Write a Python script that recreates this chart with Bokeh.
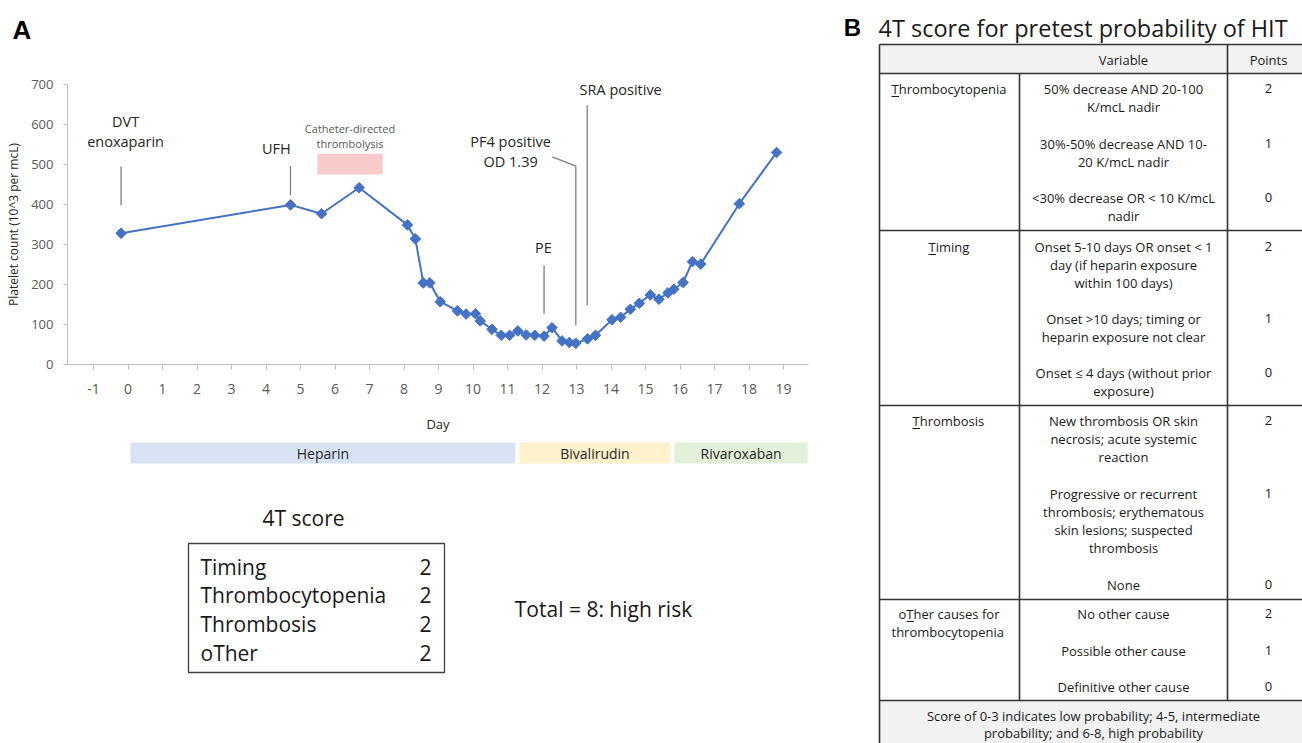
import math
from bokeh.plotting import figure
from bokeh.models import Range1d, FixedTicker
from bokeh.layouts import row, column
from bokeh.embed import file_html
from bokeh.resources import INLINE
from bokeh.core.properties import value

# ---------------- data ----------------
days = [-0.2, 4.71, 5.61, 6.70, 8.10, 8.33, 8.56, 8.75, 9.05, 9.55, 9.80, 10.07,
        10.21, 10.55, 10.82, 11.06, 11.30, 11.54, 11.79, 12.06, 12.29, 12.58,
        12.79, 12.98, 13.32, 13.55, 14.03, 14.28, 14.56, 14.82, 15.14, 15.39,
        15.65, 15.82, 16.09, 16.36, 16.60, 17.72, 18.80]
platelets = [328, 399, 377, 442, 349, 314, 204, 204, 157, 134, 126, 127,
             109, 88, 73, 73, 84, 74, 73, 71, 92, 59,
             55, 53, 64, 73, 112, 118, 138, 153, 174, 163,
             179, 188, 205, 257, 251, 402, 530]

x_ticks = list(range(-1, 20))
y_ticks = list(range(0, 701, 100))

event_text = ["DVT", "enoxaparin", "UFH", "PE", "PF4 positive", "OD 1.39", "SRA positive"]
event_text_x = [-0.07, -0.07, 4.30, 12.04, 11.09, 11.09, 14.28]
event_text_y = [607, 557, 540, 292, 557, 507, 687]
event_line_x = [[-0.2, -0.2], [4.71, 4.71], [12.06, 12.06], [12.30, 12.98, 12.98], [13.31, 13.31]]
event_line_y = [[398, 495], [423, 496], [127, 248], [519, 496, 98], [148, 648]]

lysis_start, lysis_end = 5.49, 7.38
lysis_low, lysis_high = 475, 527
lysis_text = ["Catheter-directed", "thrombolysis"]

treatments = ["Heparin", "Bivalirudin", "Rivaroxaban"]
treat_start = [0.07, 11.35, 15.84]
treat_end = [11.23, 15.72, 19.70]
treat_colors = ["#dae3f3", "#fff2cc", "#e2f0d9"]

score_items = ["Timing", "Thrombocytopenia", "Thrombosis", "oTher"]
score_points = [2, 2, 2, 2]

var_lines = [["Thrombocytopenia"], ["Timing"], ["Thrombosis"], ["oTher causes for", "thrombocytopenia"]]
criteria = [
    [["50% decrease AND 20-100", "K/mcL nadir"],
     ["30%-50% decrease AND 10-", "20 K/mcL nadir"],
     ["<30% decrease OR < 10 K/mcL", "nadir"]],
    [["Onset 5-10 days OR onset < 1", "day (if heparin exposure", "within 100 days)"],
     ["Onset >10 days; timing or", "heparin exposure not clear"],
     ["Onset \u2264 4 days (without prior", "exposure)"]],
    [["New thrombosis OR skin", "necrosis; acute systemic", "reaction"],
     ["Progressive or recurrent", "thrombosis; erythematous", "skin lesions; suspected", "thrombosis"],
     ["None"]],
    [["No other cause"], ["Possible other cause"], ["Definitive other cause"]],
]
crit_points = [[2, 1, 0], [2, 1, 0], [2, 1, 0], [2, 1, 0]]
footer_lines = ["Score of 0-3 indicates low probability; 4-5, intermediate",
                "probability; and 6-8, high probability"]

# ---------------- layout helpers ----------------
FONT = value("Open Sans")
DARK = "#262626"
INK = "#1a1a1a"
GRAY = "#595959"
X0_PX, DAY_PX = 127.5, 34.5  # page pixel of day 0 and pixels per day


def day_at(px):
    return (px - X0_PX) / DAY_PX


def blank(width, height, xr, yr, **kw):
    f = figure(width=width, height=height, x_range=xr, y_range=yr, output_backend="svg",
               toolbar_location=None, x_axis_location=None, y_axis_location=None, **kw)
    f.outline_line_color = None
    f.grid.visible = False
    return f


# ---------------- panel A: chart ----------------
p = figure(width=843, height=439, x_range=Range1d(day_at(67), day_at(808)),
           y_range=Range1d(0, 700), output_backend="svg", toolbar_location=None,
           min_border_left=67, min_border_right=35, min_border_top=84,
           min_border_bottom=75, title="A\n ")
p.outline_line_color = None
p.grid.visible = False
p.title.text_font = "Liberation Sans"
p.title.text_font_size = "26px"
p.title.text_font_style = "bold"
p.title.text_color = "black"
p.title.align = "left"
p.title.offset = -55
p.title.standoff = 20

p.xaxis.ticker = FixedTicker(ticks=x_ticks)
p.xaxis.major_label_overrides = {-1: "-1"}
p.yaxis.ticker = FixedTicker(ticks=y_ticks)
for ax in (p.xaxis[0], p.yaxis[0]):
    ax.axis_line_color = "#bfbfbf"
    ax.major_tick_line_color = "#bfbfbf"
    ax.minor_tick_line_color = None
    ax.major_tick_in = 0
    ax.major_label_text_font = "Open Sans"
    ax.major_label_text_color = GRAY
    ax.axis_label_text_font = "Open Sans"
    ax.axis_label_text_font_style = "normal"
    ax.axis_label_text_color = DARK
p.xaxis.major_tick_out = 5
p.xaxis.major_label_standoff = 14
p.xaxis.major_label_text_font_size = "14px"
p.xaxis.axis_label = "Day"
p.xaxis.axis_label_text_font_size = "13px"
p.xaxis.axis_label_standoff = 18
p.yaxis.major_tick_out = 4
p.yaxis.major_label_standoff = 10
p.yaxis.major_label_text_font_size = "13px"
p.yaxis.axis_label = "Platelet count (10^3 per mcL)"
p.yaxis.axis_label_text_font_size = "12px"
p.yaxis.axis_label_standoff = 6

# thrombolysis box
p.quad(left=[lysis_start], right=[lysis_end], bottom=[lysis_low], top=[lysis_high],
       fill_color="#f9caca", line_color=None)
mid = (lysis_start + lysis_end) / 2
p.text(x=[mid, mid], y=[590, 553], text=lysis_text, text_font=FONT,
       text_font_size="11px", text_color=GRAY, text_align="center", text_baseline="middle")

# event lines and labels
p.multi_line(xs=event_line_x, ys=event_line_y, line_color="#7f7f7f", line_width=1.3)
p.text(x=event_text_x, y=event_text_y, text=event_text, text_font=FONT,
       text_font_size="14.5px", text_color=DARK, text_align="center", text_baseline="middle")

# platelet series
p.line(days, platelets, line_color="#4472c4", line_width=2)
p.scatter(days, platelets, marker="square", angle=math.pi / 4, size=7.5,
          fill_color="#4472c4", line_color="#4472c4")

# ---------------- panel A: lower part ----------------
q = figure(width=843, height=304, x_range=p.x_range, y_range=Range1d(743, 439),
           output_backend="svg", toolbar_location=None, x_axis_location=None,
           y_axis_location=None, min_border_left=67, min_border_right=35,
           min_border_top=0, min_border_bottom=0)
q.outline_line_color = None
q.grid.visible = False

q.quad(left=treat_start, right=treat_end, top=[442] * 3, bottom=[463] * 3,
       fill_color=treat_colors, line_color=None)
q.text(x=[(a + b) / 2 for a, b in zip(treat_start, treat_end)], y=[453] * 3, text=treatments,
       text_font=FONT, text_font_size="14px", text_color=DARK,
       text_align="center", text_baseline="middle")

q.text(x=[day_at(303)], y=[517], text=["4T score"], text_font=FONT, text_font_size="21px",
       text_color=INK, text_align="center", text_baseline="middle")
q.quad(left=[day_at(188)], right=[day_at(444)], top=[543], bottom=[672],
       fill_color=None, line_color="#404040", line_width=1.3)
row_y = [566, 594, 623, 652]
q.text(x=[day_at(200)] * 4, y=row_y, text=score_items, text_font=FONT, text_font_size="21px",
       text_color=INK, text_align="left", text_baseline="middle")
q.text(x=[day_at(425)] * 4, y=row_y, text=[str(v) for v in score_points], text_font=FONT,
       text_font_size="21px", text_color=INK, text_align="center", text_baseline="middle")
total = sum(score_points)
q.text(x=[day_at(603)], y=[608], text=[f"Total = {total}: high risk"], text_font=FONT,
       text_font_size="21px", text_color=INK, text_align="center", text_baseline="middle")

# ---------------- panel B: table ----------------
r = blank(459, 743, Range1d(843, 1302), Range1d(743, 0), min_border=0)

TL, C1, C2, TR = 879, 1019, 1227, 1302
r.quad(left=[TL, TL], right=[TR, TR], top=[44, 700], bottom=[73, 743],
       fill_color="#f2f2f2", line_color=None)
LC = "#333333"
r.segment(x0=[TL] * 6, x1=[TR] * 6, y0=[44, 73, 230, 405, 599, 700],
          y1=[44, 73, 230, 405, 599, 700], line_color=LC, line_width=1.6)
r.segment(x0=[TL, C1, C2], x1=[TL, C1, C2], y0=[44, 73, 44], y1=[743, 700, 700],
          line_color=LC, line_width=1.6)

r.text(x=[852], y=[27], text=["B"], text_font=value("Liberation Sans"), text_font_size="24px",
       text_font_style="bold", text_color="black", text_align="center", text_baseline="middle")
r.text(x=[878], y=[27], text=["4T score for pretest probability of HIT"], text_font=FONT,
       text_font_size="23.5px", text_color=INK, text_align="left", text_baseline="middle")
r.text(x=[1123, 1268], y=[59, 59], text=["Variable", "Points"], text_font=FONT,
       text_font_size="13px", text_color=INK, text_align="center", text_baseline="middle")

LINE_H = 18.3
var_top = [88, 246, 420, 613]
var_left = [[891], [928], [912], [898, 891]]
ul_x = [891, 928, 912, 906]
crit_top = [[88, 143, 197], [246, 318, 372], [420, 493, 584], [613, 650, 686]]

vx, vy, vt = [], [], []
cx, cy, ct = [], [], []
px_, py_, pt_ = [], [], []
for i, lines in enumerate(var_lines):
    for j, t in enumerate(lines):
        vx.append(var_left[i][j]); vy.append(var_top[i] + j * LINE_H); vt.append(t)
    for k, crit in enumerate(criteria[i]):
        for j, t in enumerate(crit):
            cx.append(1123); cy.append(crit_top[i][k] + j * LINE_H); ct.append(t)
        px_.append(1268); py_.append(crit_top[i][k]); pt_.append(str(crit_points[i][k]))

r.text(x=vx, y=vy, text=vt, text_font=FONT, text_font_size="13px", text_color=INK,
       text_align="left", text_baseline="middle")
r.text(x=cx, y=cy, text=ct, text_font=FONT, text_font_size="13px", text_color=INK,
       text_align="center", text_baseline="middle")
r.text(x=px_, y=py_, text=pt_, text_font=FONT, text_font_size="13px", text_color=INK,
       text_align="center", text_baseline="middle")
r.segment(x0=ul_x, x1=[u + 7.5 for u in ul_x], y0=[v + 8 for v in var_top],
          y1=[v + 8 for v in var_top], line_color=INK, line_width=1)
r.text(x=[1093, 1093], y=[715, 732], text=footer_lines, text_font=FONT, text_font_size="13px",
       text_color=INK, text_align="center", text_baseline="middle")

layout = row(column(p, q), r)
open("out.html", "w").write(file_html(layout, INLINE))
